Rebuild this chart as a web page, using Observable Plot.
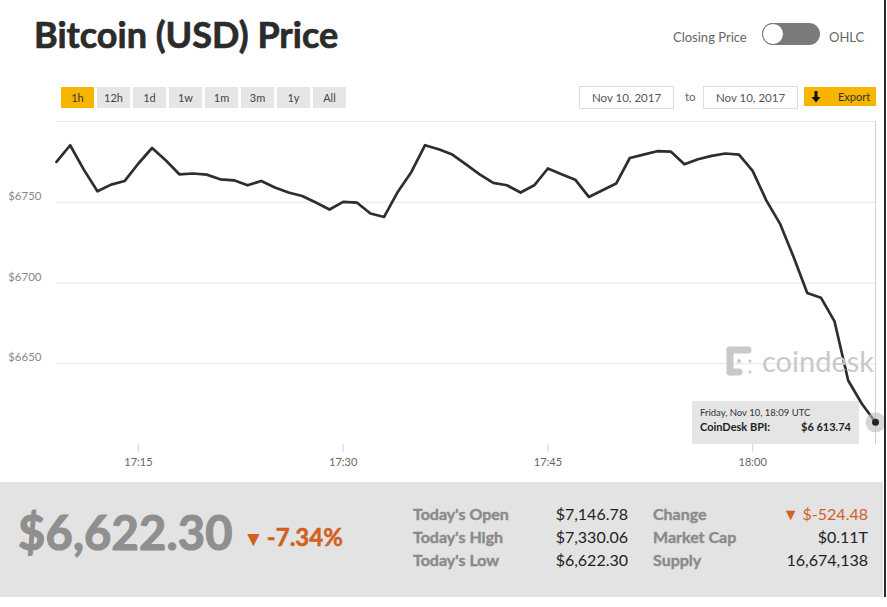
<!DOCTYPE html>
<html>
<head>
<meta charset="utf-8">
<script src="https://cdn.jsdelivr.net/npm/d3@7"></script>
<script src="https://cdn.jsdelivr.net/npm/@observablehq/plot@0.6"></script>
<style>
  html, body { margin: 0; padding: 0; background: #fff; }
  body { width: 887px; height: 607px; position: relative; overflow: hidden; font-family: "Lato", "Open Sans", sans-serif; }
  .abs { position: absolute; }
  #title { left: 34px; top: 12px; font: 700 36px "Lato", sans-serif; color: #2b2b2b; -webkit-text-stroke: 0.7px #2b2b2b; }
  #toggle-l { left: 673px; top: 29px; font-size: 13px; color: #666; }
  #toggle { left: 762px; top: 23px; width: 58px; height: 22px; border-radius: 11px; background: #7a7a7a; }
  #toggle::after { content: ""; position: absolute; left: 0px; top: 0px; width: 20px; height: 20px; border-radius: 50%; background: #fff; border: 1px solid #777; }
  #toggle-r { left: 829px; top: 29px; font-size: 13px; color: #666; }
  #ranges { left: 61px; top: 87px; display: flex; gap: 3px; }
  #ranges div { width: 33px; height: 21px; line-height: 21px; text-align: center; font-size: 11px; color: #444; background: #e6e6e6; }
  #ranges div.on { background: #f7b500; color: #333; }
  .datebox { top: 86px; width: 93px; height: 21px; border: 1px solid #ddd; line-height: 21px; text-align: center; font-size: 11.5px; color: #555; }
  #to { left: 685px; top: 90px; font-size: 11.5px; color: #666; }
  #export { left: 804px; top: 87px; width: 72px; height: 19px; background: #f7b500; font-size: 11px; color: #333; line-height: 19px; display: flex; align-items: center; }
  #chart { left: 0; top: 110px; }
  #wm { left: 726px; top: 343px; color: #c9c9c9; font: 400 29px "Lato", sans-serif; display: flex; align-items: center; gap: 8px; }
  #tip { background: rgba(228,228,228,0.95); width: 167px; height: 43px; box-sizing: border-box; padding: 6px 8px 0 8px; }
  #tip .d { font-size: 9.5px; color: #333; }
  #tip .v { font-size: 11px; font-weight: 700; color: #222; display: flex; justify-content: space-between; margin-top: 2px; }
  #panel { left: 0; top: 482px; width: 883px; height: 115px; background: #e3e3e3; }
  #price { left: 18px; top: 504px; font: 700 47px "Lato", sans-serif; color: #8f8f8f; -webkit-text-stroke: 1.2px #8f8f8f; letter-spacing: 0.2px; }
  #pct { left: 243px; top: 522px; font: 700 24px "Lato", sans-serif; color: #d2601e; -webkit-text-stroke: 0.5px #d2601e; }
  .lab { font: 700 16px "Lato", sans-serif; color: #8a8a8a; -webkit-text-stroke: 0.4px #8a8a8a; }
  .val { font: 400 16px "Lato", sans-serif; color: #222; text-align: right; }
  #edge { left: 884px; top: 0; width: 2px; height: 597px; background: #2a2a2a; }
</style>
</head>
<body>
<div id="title" class="abs">Bitcoin (USD) Price</div>
<div id="toggle-l" class="abs">Closing Price</div>
<div id="toggle" class="abs"></div>
<div id="toggle-r" class="abs">OHLC</div>
<div id="ranges" class="abs"></div>
<div class="abs datebox" style="left:579px">Nov 10, 2017</div>
<div id="to" class="abs">to</div>
<div class="abs datebox" style="left:703px">Nov 10, 2017</div>
<div id="export" class="abs"><svg width="12" height="12" viewBox="0 0 12 12" style="margin-left:6px"><path d="M4.5 0 H7.5 V6 H10.5 L6 11.5 L1.5 6 H4.5 Z" fill="#111"/></svg><span style="margin-left:16px">Export</span></div>
<div id="chart" class="abs"></div>
<div id="wm" class="abs">
  <svg width="28" height="30" viewBox="0 0 28 30">
    <g fill="#c9c9c9" stroke="#c9c9c9" stroke-linecap="round">
      <line x1="4" y1="4" x2="22" y2="4" stroke-width="7"/>
      <line x1="4" y1="4" x2="4" y2="26" stroke-width="7"/>
      <line x1="4" y1="26" x2="13" y2="26" stroke-width="7"/>
      <circle cx="13" cy="15" r="2" stroke="none"/>
      <circle cx="24" cy="15" r="1.5" stroke="none"/>
      <circle cx="24" cy="26" r="1.5" stroke="none"/>
    </g>
  </svg>
  <span>coindesk</span>
</div>
<div id="tip" class="abs"></div>
<div id="panel" class="abs"></div>
<div id="price" class="abs"></div>
<div id="pct" class="abs"></div>
<div id="stats"></div>
<div id="edge" class="abs"></div>
<script>
// ---- data ----
const startTime = "2017-11-10T17:09:00Z";
const prices = [
  6775.0, 6785.3, 6770.2, 6756.8, 6760.9, 6763.2, 6774.0, 6783.6, 6776.0, 6767.3,
  6767.8, 6767.1, 6764.2, 6763.6, 6760.5, 6763.2, 6759.1, 6756.0, 6753.9, 6749.8,
  6745.5, 6750.2, 6749.8, 6743.0, 6740.9, 6756.4, 6768.8, 6785.3, 6782.8, 6779.5,
  6773.5, 6767.3, 6762.0, 6760.5, 6756.0, 6760.5, 6770.9, 6767.3, 6764.0, 6753.3,
  6757.4, 6761.6, 6777.4, 6779.5, 6781.6, 6781.4, 6773.5, 6776.6, 6778.7, 6780.2,
  6779.5, 6769.4, 6751.2, 6736.8, 6716.1, 6693.8, 6690.9, 6676.2, 6639.6, 6625.2,
  6613.74
];
const yDomain = [6600, 6800];
const yGrid = [6650, 6700, 6750, 6800];
const yLabels = [6650, 6700, 6750];
const rangeButtons = ["1h", "12h", "1d", "1w", "1m", "3m", "1y", "All"];
const activeRange = "1h";
const tipDate = "Friday, Nov 10, 18:09 UTC";
const tipLabel = "CoinDesk BPI:";
const tipValue = "$6 613.74";
const bigPrice = "$6,622.30";
const bigChange = "-7.34%";
const statLabels1 = ["Today's Open", "Today's High", "Today's Low"];
const statValues1 = ["$7,146.78", "$7,330.06", "$6,622.30"];
const statLabels2 = ["Change", "Market Cap", "Supply"];
const statValues2 = ["▼ $-524.48", "$0.11T", "16,674,138"];

// ---- build ----
const t0 = new Date(startTime).getTime();
const data = prices.map((p, i) => ({ t: new Date(t0 + i * 60000), p }));
const last = data[data.length - 1];

const rb = document.getElementById("ranges");
rangeButtons.forEach(r => {
  const d = document.createElement("div");
  d.textContent = r;
  if (r === activeRange) d.className = "on";
  rb.appendChild(d);
});

const W = 887, H = 370, chartTop = 110;
const plot = Plot.plot({
  width: W, height: H,
  marginLeft: 56, marginRight: 12, marginTop: 11, marginBottom: 36,
  style: { fontFamily: "Lato, sans-serif", fontSize: "11px", background: "transparent" },
  x: { type: "utc", domain: [data[0].t, last.t], label: null },
  y: { domain: yDomain, label: null },
  marks: [
    Plot.ruleY(yGrid, { stroke: "#e6e6e6", strokeWidth: 1 }),
    Plot.ruleX([last], { x: "t", stroke: "#d0d0d0", strokeWidth: 1 }),
    Plot.axisX({ ticks: d3.utcMinute.every(15), tickFormat: d3.utcFormat("%H:%M"), tickSize: 8, stroke: "#ccd6eb", tickPadding: 6, fill: "#666", fontSize: 11, label: null }),
    Plot.axisY({ ticks: yLabels, tickSize: 0, tickPadding: 15, dy: -6, tickFormat: d => "$" + d, fill: "#888", fontSize: 11.5, label: null }),
    Plot.line(data, { x: "t", y: "p", stroke: "#2e2e2e", strokeWidth: 2.7, strokeLinejoin: "round" }),
    Plot.dot([last], { x: "t", y: "p", r: 10, fill: "#bdbdbd", fillOpacity: 0.6, stroke: "none" }),
    Plot.dot([last], { x: "t", y: "p", r: 3.5, fill: "#222", stroke: "none" })
  ]
});
document.getElementById("chart").appendChild(plot);

// tooltip placed from scales
const px = plot.scale("x").apply(last.t), py = plot.scale("y").apply(last.p);
const tip = document.getElementById("tip");
tip.style.left = (px - 16 - 167) + "px";
tip.style.top = (chartTop + py - 21) + "px";
tip.innerHTML = `<div class="d">${tipDate}</div><div class="v"><span>${tipLabel}</span><span>${tipValue}</span></div>`;

document.getElementById("price").textContent = bigPrice;
document.getElementById("pct").innerHTML = `<span style="font-size:21px;margin-right:3px;-webkit-text-stroke:0">▼</span>${bigChange}`;

const st = document.getElementById("stats");
const rowsY = [504, 527, 550];
function addCol(labels, values, lx, vr, orangeFirst) {
  labels.forEach((l, i) => {
    const a = document.createElement("div");
    a.className = "abs lab"; a.style.left = lx + "px"; a.style.top = rowsY[i] + "px"; a.textContent = l;
    st.appendChild(a);
    const v = document.createElement("div");
    v.className = "abs val"; v.style.right = (887 - vr) + "px"; v.style.top = rowsY[i] + "px"; v.textContent = values[i];
    if (orangeFirst && i === 0) v.style.color = "#d2601e";
    st.appendChild(v);
  });
}
addCol(statLabels1, statValues1, 413, 628, false);
addCol(statLabels2, statValues2, 653, 868, true);
</script>
</body>
</html>
